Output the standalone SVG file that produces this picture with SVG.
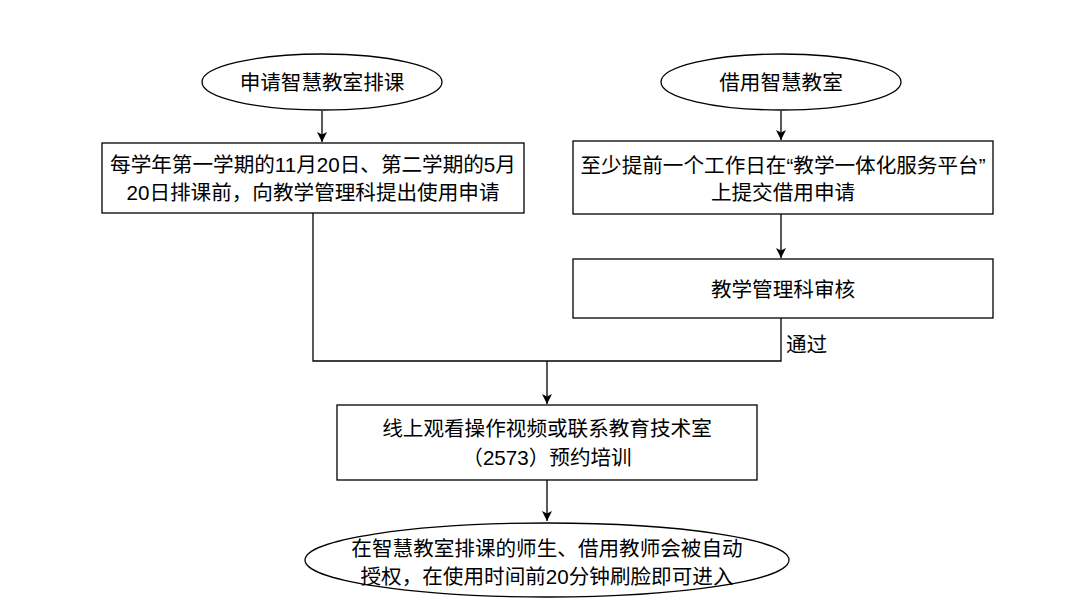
<svg xmlns="http://www.w3.org/2000/svg" width="1080" height="608" viewBox="0 0 1080 608">
<defs>
<style>
.s{fill:#fff;stroke:#000;stroke-width:1.3}
.t{font-family:"Liberation Sans","Noto Sans CJK SC",sans-serif;font-size:20.6px;fill:#000;text-anchor:middle;dominant-baseline:central}
.c{fill:none;stroke:#000;stroke-width:1.3}
</style>
<marker id="a" viewBox="0 0 10 10" refX="10" refY="5" markerWidth="10" markerHeight="10" markerUnits="userSpaceOnUse" orient="auto">
<path d="M0,0 L10,5 L0,10 L2.5,5 Z" fill="#000"/>
</marker>
</defs>
<rect width="1080" height="608" fill="#fff"/>
<g id="connectors">
<path class="c" d="M322,111 V142" marker-end="url(#a)"/>
<path class="c" d="M781,111 V140" marker-end="url(#a)"/>
<path class="c" d="M781,214 V258" marker-end="url(#a)"/>
<path class="c" d="M313,213 V361 H781 V318"/>
<path class="c" d="M547,361 V404" marker-end="url(#a)"/>
<path class="c" d="M547,480 V521" marker-end="url(#a)"/>
<text class="t" x="786" y="344" style="text-anchor:start">通过</text>
</g>
<g id="n1">
<ellipse class="s" cx="322" cy="82" rx="120" ry="28"/>
<text class="t" x="322" y="82">申请智慧教室排课</text>
</g>
<g id="n2">
<ellipse class="s" cx="781" cy="82" rx="120" ry="28"/>
<text class="t" x="781" y="82">借用智慧教室</text>
</g>
<g id="n3">
<rect class="s" x="102" y="143" width="422" height="70"/>
<text class="t" x="313" y="164">每学年第一学期的11月20日、第二学期的5月</text>
<text class="t" x="313" y="192">20日排课前，向教学管理科提出使用申请</text>
</g>
<g id="n4">
<rect class="s" x="573" y="141" width="420" height="73"/>
<text class="t" x="783" y="165">至少提前一个工作日在“教学一体化服务平台”</text>
<text class="t" x="783" y="192">上提交借用申请</text>
</g>
<g id="n5">
<rect class="s" x="573" y="259" width="420" height="59"/>
<text class="t" x="783" y="289">教学管理科审核</text>
</g>
<g id="n6">
<rect class="s" x="337" y="405" width="420" height="75"/>
<text class="t" x="547" y="428">线上观看操作视频或联系教育技术室</text>
<text class="t" x="547" y="457">（2573）预约培训</text>
</g>
<g id="n7">
<ellipse class="s" cx="547" cy="560" rx="242" ry="37"/>
<text class="t" x="547" y="548">在智慧教室排课的师生、借用教师会被自动</text>
<text class="t" x="547" y="576">授权，在使用时间前20分钟刷脸即可进入</text>
</g>
</svg>
